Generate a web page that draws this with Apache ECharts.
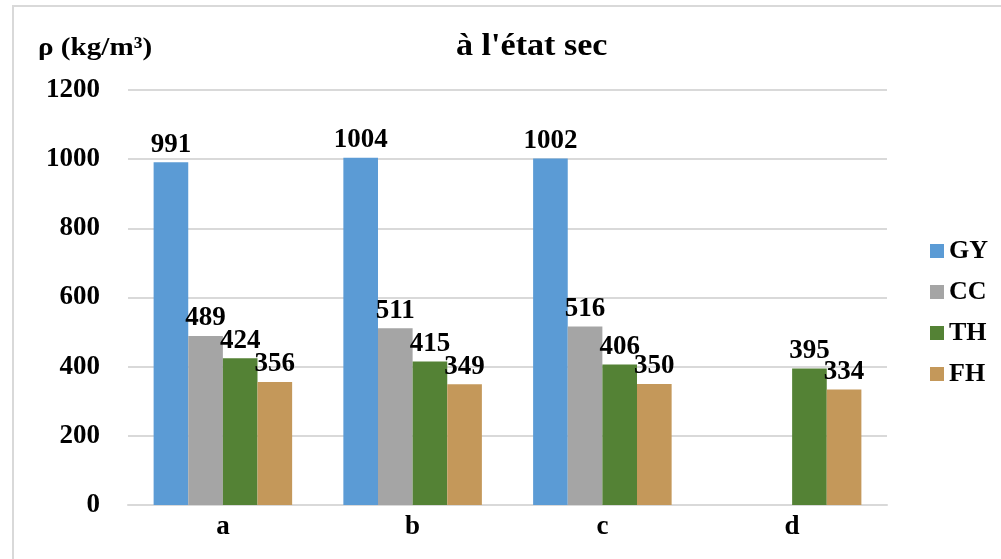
<!DOCTYPE html>
<html><head><meta charset="utf-8">
<script src="https://cdn.jsdelivr.net/npm/echarts@6/dist/echarts.min.js"></script>
<style>html,body{margin:0;padding:0;background:#fff}#c{width:1001px;height:559px}</style>
</head><body><div id="c"></div>
<script>
const categories = ['a', 'b', 'c', 'd'];
const seriesNames = ['GY', 'CC', 'TH', 'FH'];
const GY = [991, 1004, 1002, null];
const CC = [489, 511, 516, null];
const TH = [424, 415, 406, 395];
const FH = [356, 349, 350, 334];
const colors = ['#5B9BD5', '#A5A5A5', '#548235', '#C4985A'];
const yTicks = [0, 200, 400, 600, 800, 1000, 1200];
const titleText = "à l'état sec";
const yName = 'ρ (kg/m³)';

const font = '"Liberation Serif", "Times New Roman", serif';
const values = [GY, CC, TH, FH];
const chart = echarts.init(document.getElementById('c'));
chart.setOption({
  animation: false,
  textStyle: { fontFamily: font },
  graphic: [
    { type: 'rect', shape: { x: 13, y: 6, width: 1100, height: 700 }, style: { fill: 'none', stroke: '#d9d9d9', lineWidth: 2 } },
    { type: 'text', x: 456, y: 31, scaleX: 1.1, originX: 0, style: { text: titleText, font: 'bold 31px ' + font, fill: '#000' } },
    { type: 'text', x: 38, y: 35, scaleX: 1.12, originX: 0, style: { text: yName, font: 'bold 26px ' + font, fill: '#000' } }
  ],
  legend: {
    orient: 'vertical', left: 925, top: 233,
    itemWidth: 14, itemHeight: 14, itemGap: 15, icon: 'rect',
    textStyle: { fontFamily: font, fontWeight: 'bold', fontSize: 26, color: '#000' },
    data: seriesNames
  },
  grid: { left: 128, right: 114, top: 90, bottom: 54 },
  xAxis: {
    type: 'category', data: categories,
    axisLine: { lineStyle: { color: '#d9d9d9', width: 2 } },
    axisTick: { show: false },
    axisLabel: { fontFamily: font, fontWeight: 'bold', fontSize: 27, color: '#000', margin: 9 }
  },
  yAxis: {
    type: 'value', min: 0, max: 1200, interval: 200,
    axisLine: { show: false }, axisTick: { show: false },
    splitLine: { lineStyle: { color: '#d9d9d9', width: 2 } },
    axisLabel: { fontFamily: font, fontWeight: 'bold', fontSize: 27, color: '#000', margin: 28,
      formatter: v => yTicks.includes(v) ? String(v) : '' }
  },
  series: seriesNames.map((n, i) => ({
    name: n, type: 'bar', data: values[i],
    barGap: '0%', barCategoryGap: '27%',
    itemStyle: { color: colors[i] },
    label: { show: true, position: 'top', distance: 4,
      fontFamily: font, fontWeight: 'bold', fontSize: 27, color: '#000' }
  }))
});
</script></body></html>
